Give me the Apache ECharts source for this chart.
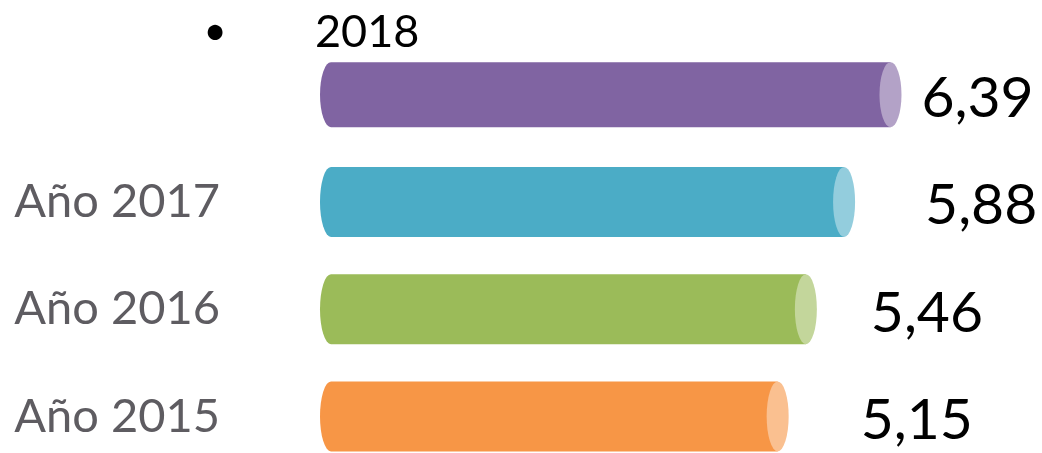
<!DOCTYPE html>
<html>
<head>
<meta charset="utf-8">
<script src="https://cdn.jsdelivr.net/npm/echarts@6/dist/echarts.min.js"></script>
<style>html,body{margin:0;padding:0;background:#fff}#c{width:1042px;height:453px}</style>
</head>
<body>
<div id="c"></div>
<script>
const categories = ['2018', 'Año 2017', 'Año 2016', 'Año 2015'];
const values = [6.39, 5.88, 5.46, 5.15];
const valueLabels = ['6,39', '5,88', '5,46', '5,15'];

// styling (not data)
const bodyColors = ['#8064A2', '#4BACC6', '#9BBB59', '#F79646'];
const capColors = ['#B3A2C7', '#93CDDD', '#C3D69B', '#FAC090'];
const labelGap = [20, 70, 54, 72];
const barHeights = [65, 70, 70, 70];
const FONT = 'Lato, "Open Sans", sans-serif';

const chart = echarts.init(document.getElementById('c'));
const rx = 11;

function renderItem(params, api) {
  const i = params.dataIndex;
  const v = api.value(1);
  const p0 = api.coord([0, i]);
  const p1 = api.coord([v, i]);
  const h = barHeights[i];
  const ry = h / 2;
  const cy = p0[1];
  const top = cy - ry, bot = cy + ry;
  const xl = p0[0];
  const xr = p1[0];
  const xc = xr - rx;
  const body = `M ${xl + rx} ${top} L ${xc} ${top} L ${xc} ${bot} L ${xl + rx} ${bot} A ${rx} ${ry} 0 0 1 ${xl + rx} ${top} Z`;
  const cap = `M ${xc} ${top} A ${rx} ${ry} 0 0 1 ${xc} ${bot} A ${rx} ${ry} 0 0 1 ${xc} ${top} Z`;
  const children = [
    { type: 'path', shape: { pathData: body }, style: { fill: bodyColors[i] } },
    { type: 'path', shape: { pathData: cap }, style: { fill: capColors[i] } },
    { type: 'text', style: { text: valueLabels[i], x: xr + labelGap[i], y: cy + 4, fill: '#000', font: '57px ' + FONT, textAlign: 'left', textVerticalAlign: 'middle' } }
  ];
  if (i === 0) {
    children.push({ type: 'text', style: { text: '•', x: xl - 105, y: top - 30, fill: '#000', font: '40px ' + FONT, textAlign: 'center', textVerticalAlign: 'middle' } });
    children.push({ type: 'text', style: { text: categories[0], x: xl - 5, y: top - 30, fill: '#000', font: '45px ' + FONT, textAlign: 'left', textVerticalAlign: 'middle' } });
  }
  return { type: 'group', children };
}

chart.setOption({
  animation: false,
  grid: { left: 320, width: 637, top: 41, height: 429, containLabel: false, outerBoundsMode: 'none' },
  xAxis: { type: 'value', min: 0, max: 7, show: false },
  yAxis: {
    type: 'category', data: categories, inverse: true,
    axisLine: { show: false }, axisTick: { show: false }, splitLine: { show: false },
    axisLabel: {
      margin: 100, color: '#5E5C61', fontSize: 47, fontFamily: FONT,
      formatter: (val, idx) => idx === 0 ? '' : val
    }
  },
  series: [{
    type: 'custom', renderItem, clip: false,
    data: values.map((v, i) => [i, v]),
    encode: { x: 1, y: 0 }
  }]
});
</script>
</body>
</html>
